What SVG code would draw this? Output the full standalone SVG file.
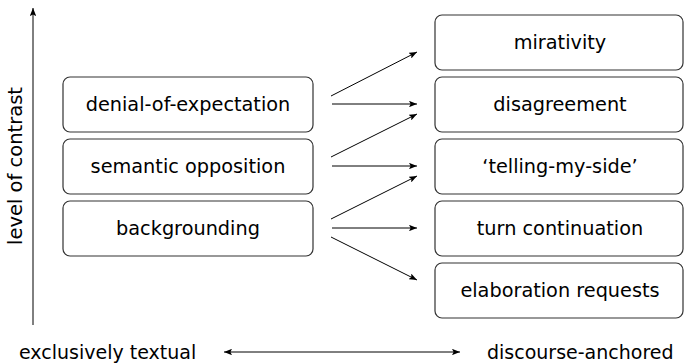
<svg xmlns="http://www.w3.org/2000/svg" width="684" height="363" viewBox="0 0 684 363">
<defs>
<marker id="ah" viewBox="0 0 10 8" refX="10" refY="4" markerWidth="8" markerHeight="6.4" markerUnits="userSpaceOnUse" orient="auto-start-reverse">
<path d="M0,0 L10,4 L0,8 L2,4 Z" fill="#000"/>
</marker>
</defs>
<style>
.box{fill:#fff;stroke:#333;stroke-width:1.2}
.t{font-family:"DejaVu Sans","Liberation Sans",sans-serif;font-size:19.3px;fill:#000;text-anchor:middle}
.ax{font-family:"DejaVu Sans","Liberation Sans",sans-serif;font-size:19px;fill:#000}
.c{stroke:#000;stroke-width:1;fill:none;marker-end:url(#ah)}
</style>
<rect width="684" height="363" fill="#fff"/>
<g id="axes">
<line class="c" x1="33" y1="325" x2="33" y2="8"/>
<line class="c" x1="224" y1="352" x2="460" y2="352" style="marker-start:url(#ah)"/>
<text class="ax" transform="translate(22,166) rotate(-90)" text-anchor="middle" style="font-size:19.5px">level of contrast</text>
<text class="ax" x="19" y="359">exclusively textual</text>
<text class="ax" x="487" y="359">discourse-anchored</text>
</g>
<g id="denial"><rect class="box" x="63" y="77" width="250" height="55" rx="7"/><text class="t" x="188" y="111">denial-of-expectation</text></g>
<g id="semantic"><rect class="box" x="63" y="139" width="250" height="55" rx="7"/><text class="t" x="188" y="173">semantic opposition</text></g>
<g id="background"><rect class="box" x="63" y="201" width="250" height="55" rx="7"/><text class="t" x="188" y="235">backgrounding</text></g>
<g id="mirativity"><rect class="box" x="435" y="15" width="248" height="55" rx="7"/><text class="t" x="560" y="49">mirativity</text></g>
<g id="disagreement"><rect class="box" x="435" y="77" width="248" height="55" rx="7"/><text class="t" x="560" y="111">disagreement</text></g>
<g id="telling"><rect class="box" x="435" y="139" width="248" height="55" rx="7"/><text class="t" x="560" y="173">‘telling-my-side’</text></g>
<g id="turn"><rect class="box" x="435" y="201" width="248" height="55" rx="7"/><text class="t" x="560" y="235">turn continuation</text></g>
<g id="elaboration"><rect class="box" x="435" y="263" width="248" height="55" rx="7"/><text class="t" x="560" y="297">elaboration requests</text></g>
<g id="connectors">
<line class="c" x1="331" y1="96" x2="417" y2="52"/>
<line class="c" x1="332" y1="104" x2="417" y2="104"/>
<line class="c" x1="331" y1="157" x2="417" y2="114"/>
<line class="c" x1="332" y1="166" x2="417" y2="166"/>
<line class="c" x1="331" y1="219" x2="417" y2="176"/>
<line class="c" x1="332" y1="228" x2="417" y2="228"/>
<line class="c" x1="331" y1="237" x2="417" y2="280"/>
</g>
</svg>
